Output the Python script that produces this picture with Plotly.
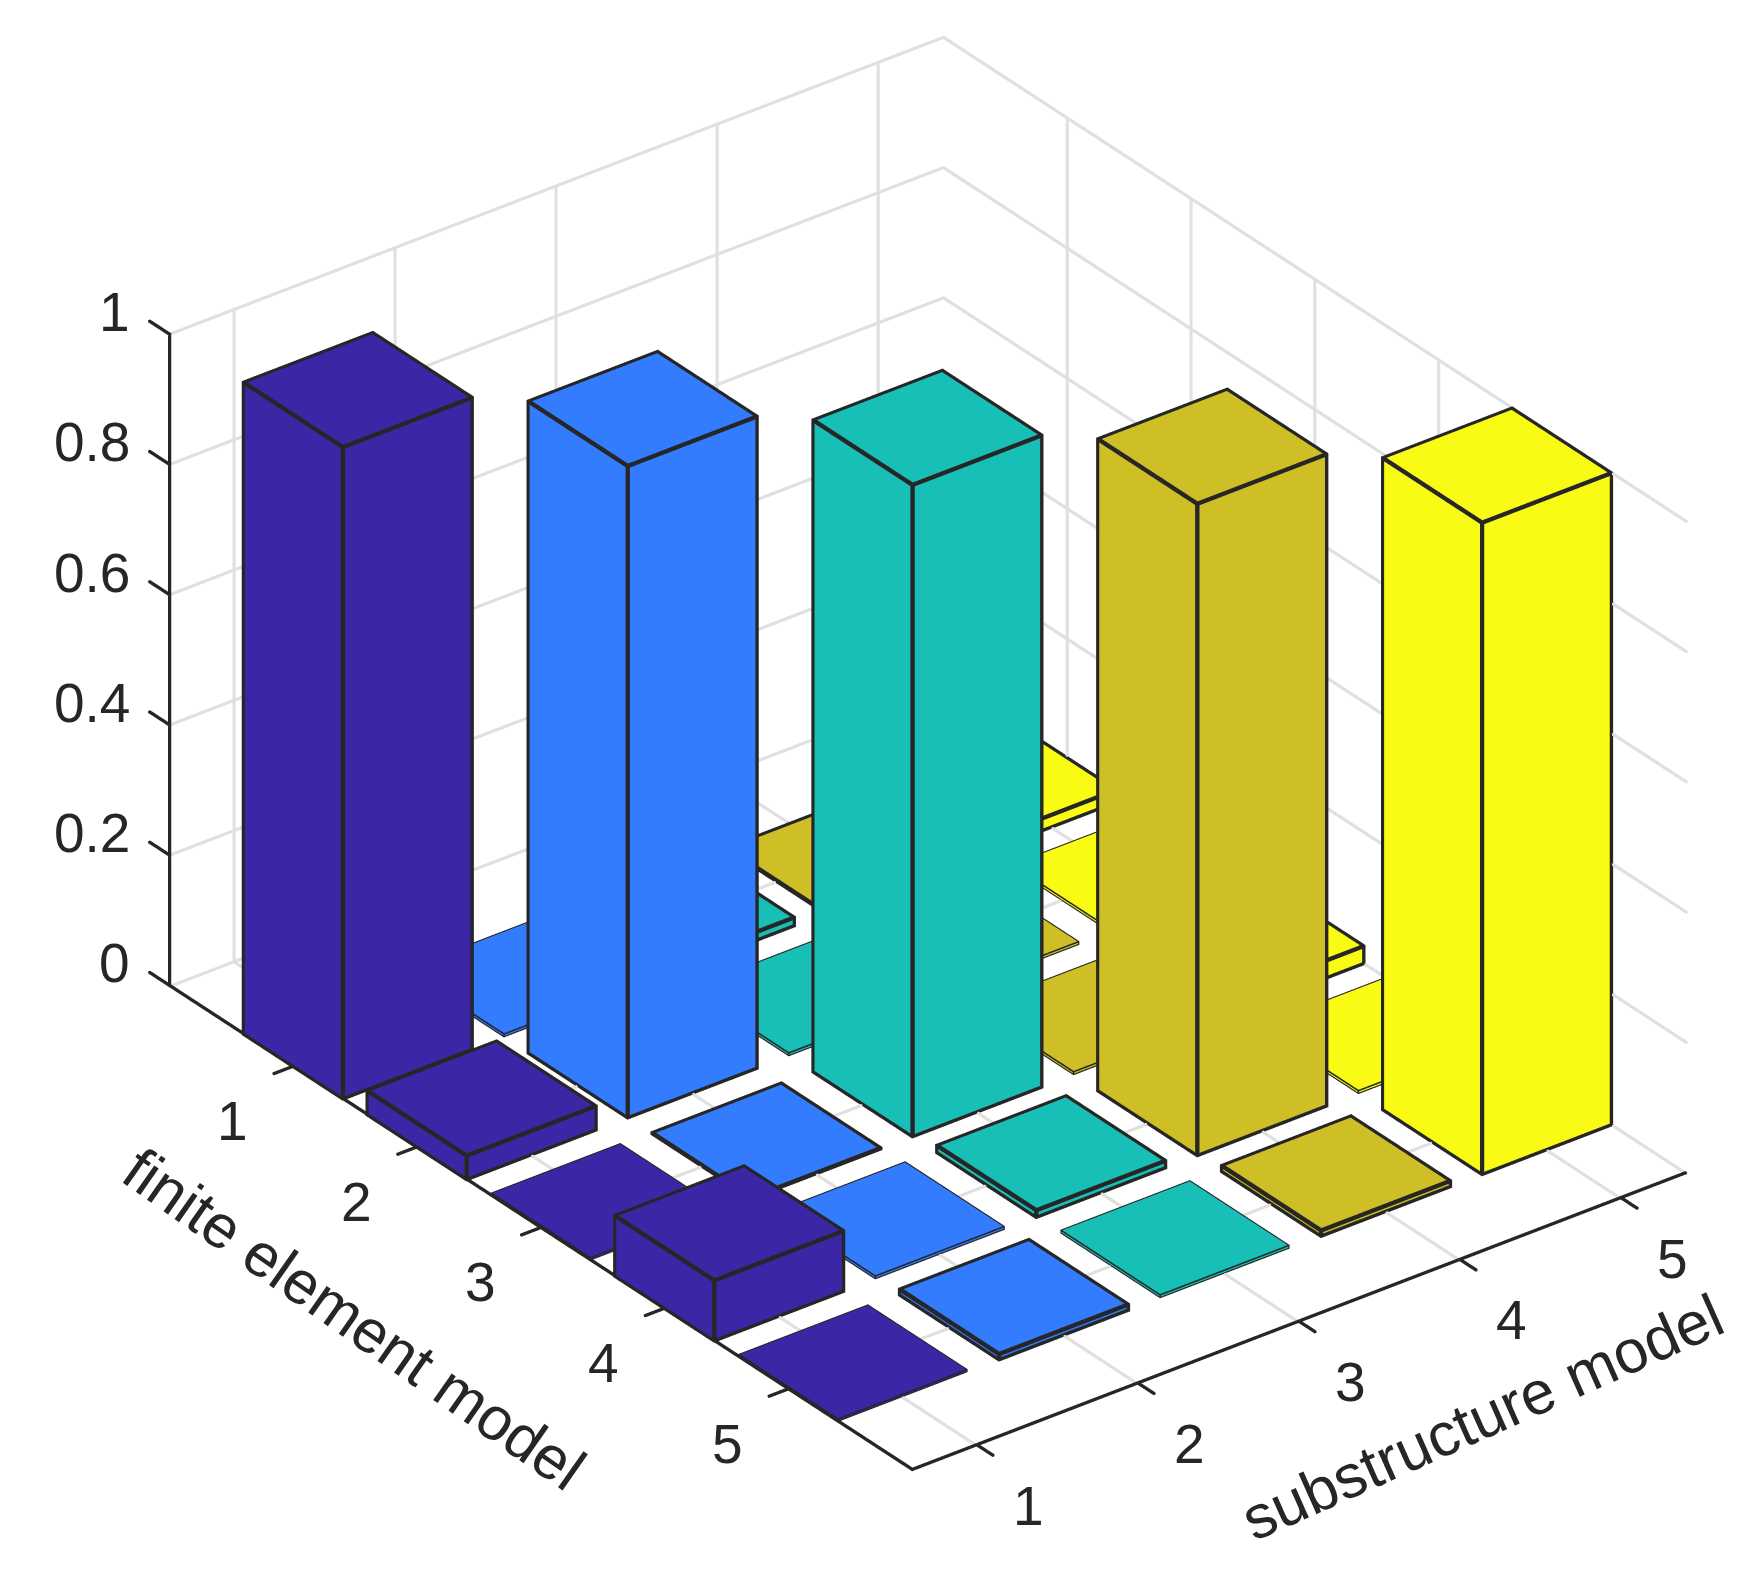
import numpy as np
import plotly.graph_objects as go

# data: one list of bar heights per substructure model (x), indexed by finite element model (y)
fe_models = [1, 2, 3, 4, 5]
sub_models = [1, 2, 3, 4, 5]
sub1 = [1.0, 0.036, 0.003, 0.092, 0.003]
sub2 = [0.004, 1.0, 0.0005, 0.004, 0.008]
sub3 = [0.012, 0.004, 1.0, 0.010, 0.004]
sub4 = [0.0005, 0.004, 0.004, 1.0, 0.008]
sub5 = [0.018, 0.004, 0.026, 0.004, 1.0]
columns = [sub1, sub2, sub3, sub4, sub5]
colors = ["#3b27a6", "#327cfd", "#18bfb6", "#cfbf26", "#f9fb14"]
z_ticks = [0, 0.2, 0.4, 0.6, 0.8, 1]
z_ticktext = ["0", "0.2", "0.4", "0.6", "0.8", "1"]
xlabel = "substructure model"
ylabel = "finite element model"

# style
HW = 0.4
INK = "#262626"
GRID = "#e0e0e0"
THICK = 3.4
THIN = 1.2
AXW = 2.6
GRW = 2.5
XR = (0.6, 5.4)
YR = (0.0, 6.0)
PAD = 1.1
ZOOM = 1.41
ASPECT = dict(x=0.868 * PAD * ZOOM, y=1.087 * PAD * ZOOM, z=0.670 * PAD * ZOOM)
t, el = np.radians(37.5), np.radians(30)
DIST = 3.0
PX = 797.0
SHIFT_R, SHIFT_U = 38.0, 50.5

# data units per screen pixel along each axis
UX, UY, UZ = (XR[1] - XR[0]) / 0.868 / 1124, (YR[1] - YR[0]) / 1.087 / 1124, 1 / 0.670 / 1124
SQ = 1.1

d = np.array([-np.sin(t) * np.cos(el), -np.cos(t) * np.cos(el), np.sin(el)])
r = np.array([np.cos(t), -np.sin(t), 0.0])
u = np.array([np.sin(el) * np.sin(t), np.sin(el) * np.cos(t), np.cos(el)])
center = -(SHIFT_R * r + SHIFT_U * u) / PX
eye = center + DIST * d

I = [0, 0, 4, 4, 0, 0, 1, 1, 2, 2, 3, 3]
J = [1, 2, 5, 6, 1, 5, 2, 6, 3, 7, 0, 4]
K = [2, 3, 6, 7, 5, 4, 6, 5, 7, 6, 4, 7]


class Boxes:
    """Collects axis-aligned boxes for one Mesh3d trace."""
    def __init__(self):
        self.x, self.y, self.z, self.i, self.j, self.k = [], [], [], [], [], []

    def add(self, x0, x1, y0, y1, z0, z1):
        n = len(self.x)
        for zz in (z0, z1):
            for xx, yy in ((x0, y0), (x1, y0), (x1, y1), (x0, y1)):
                self.x.append(xx); self.y.append(yy); self.z.append(zz)
        self.i += [n + a for a in I]
        self.j += [n + a for a in J]
        self.k += [n + a for a in K]

    def stroke(self, p, q, w, flat_floor=False):
        hx, hy, hz = w / SQ / 2 * UX, w / SQ / 2 * UY, w / SQ / 2 * UZ
        z0, z1 = min(p[2], q[2]) - hz, max(p[2], q[2]) + hz
        if flat_floor:
            z0, z1 = -2 * hz, 0.0
        self.add(min(p[0], q[0]) - hx, max(p[0], q[0]) + hx,
                 min(p[1], q[1]) - hy, max(p[1], q[1]) + hy, z0, z1)

    def trace(self, color):
        return go.Mesh3d(x=self.x, y=self.y, z=self.z, i=self.i, j=self.j, k=self.k, color=color,
                         flatshading=True,
                         lighting=dict(ambient=1, diffuse=0, specular=0, roughness=1, fresnel=0),
                         hoverinfo="skip", showscale=False)


fig = go.Figure()

# grid on the back walls and floor; the right wall lines sit just behind the bars touching it
WALL_X = XR[1] + 1.05 * GRW / SQ / 2 * UX
grid = Boxes()
for v in sub_models:
    grid.stroke((v, YR[0], 0), (v, YR[0], 1), GRW)
    grid.stroke((v, YR[0], 0), (v, YR[1], 0), GRW, flat_floor=True)
for v in fe_models:
    grid.stroke((WALL_X, v, 0), (WALL_X, v, 1), GRW)
    grid.stroke((XR[0], v, 0), (XR[1], v, 0), GRW, flat_floor=True)
for v in z_ticks:
    grid.stroke((XR[0], YR[0], v), (XR[1], YR[0], v), GRW, flat_floor=(v == 0))
    grid.stroke((WALL_X, YR[0], v), (WALL_X, YR[1], v), GRW, flat_floor=(v == 0))
fig.add_trace(grid.trace(GRID))

# bars and their edges
ink = Boxes()
for xv, col, c in zip(sub_models, columns, colors):
    bars = Boxes()
    for yv, h in zip(fe_models, col):
        x0, x1, y0, y1 = xv - HW, xv + HW, yv - HW, yv + HW
        bars.add(x0, x1, y0, y1, 0.0, h)
        w = THIN if 0.002 < h < 0.0065 else THICK
        for zz in (0.0, h):
            ink.stroke((x0, y0, zz), (x1, y0, zz), w)
            ink.stroke((x0, y1, zz), (x1, y1, zz), w)
            ink.stroke((x0, y0, zz), (x0, y1, zz), w)
            ink.stroke((x1, y0, zz), (x1, y1, zz), w)
        for xx, yy in ((x0, y0), (x1, y0), (x1, y1), (x0, y1)):
            ink.stroke((xx, yy, 0.0), (xx, yy, h), w)
    fig.add_trace(bars.trace(c))

# axis lines and ticks
ink.stroke((XR[0], YR[0], 0), (XR[0], YR[0], 1), AXW)
ink.stroke((XR[0], YR[0], 0), (XR[0], YR[1], 0), AXW)
ink.stroke((XR[0], YR[1], 0), (XR[1], YR[1], 0), AXW)
for v in z_ticks:
    ink.stroke((XR[0], YR[0], v), (XR[0], YR[0] - 0.16, v), AXW)
for v in fe_models:
    ink.stroke((XR[0], v, 0), (XR[0] - 0.12, v, 0), AXW)
for v in sub_models:
    ink.stroke((v, YR[1], 0), (v, YR[1] + 0.13, 0), AXW)
fig.add_trace(ink.trace(INK))

font = dict(family="Liberation Sans, Arial, sans-serif", size=55, color=INK)
tfont = dict(family="Liberation Sans, Arial, sans-serif", size=61, color=INK)
anns = []
for v, s in zip(z_ticks, z_ticktext):
    anns.append(dict(x=XR[0], y=YR[0], z=v, text=s, showarrow=False, font=font,
                     xanchor="right", yanchor="middle", xshift=-38, yshift=22))
for v in fe_models:
    anns.append(dict(x=XR[0], y=v, z=0, text=str(v), showarrow=False, font=font,
                     xanchor="center", yanchor="middle", xshift=-61, yshift=-55))
for v in sub_models:
    anns.append(dict(x=v, y=YR[1], z=0, text=str(v), showarrow=False, font=font,
                     xanchor="center", yanchor="middle", xshift=52, yshift=-61))
anns.append(dict(x=XR[0], y=3, z=0, text=ylabel, showarrow=False, font=tfont, textangle=35,
                 xanchor="center", yanchor="middle", xshift=-187, yshift=-92))
anns.append(dict(x=3, y=YR[1], z=0, text=xlabel, showarrow=False, font=tfont, textangle=-24,
                 xanchor="center", yanchor="middle", xshift=184, yshift=-96))


def axis(lo, hi):
    mid, half = (lo + hi) / 2, (hi - lo) / 2 * PAD
    return dict(range=[mid - half, mid + half], showticklabels=False, ticks="", showline=False,
                zeroline=False, showbackground=False, showgrid=False,
                showspikes=False, title=dict(text=""))


yaxis = axis(*YR)
yaxis["range"] = yaxis["range"][::-1]

fig.update_layout(
    width=1763, height=1592, margin=dict(l=0, r=0, t=0, b=0), showlegend=False,
    paper_bgcolor="white",
    scene=dict(
        xaxis=axis(*XR),
        yaxis=yaxis,
        zaxis=axis(0, 1),
        aspectmode="manual", aspectratio=ASPECT,
        camera=dict(projection=dict(type="orthographic"),
                    up=dict(x=0, y=0, z=1),
                    center=dict(x=center[0], y=center[1], z=center[2]),
                    eye=dict(x=eye[0], y=eye[1], z=eye[2])),
        annotations=anns,
        domain=dict(x=[0, 1], y=[0, 1]),
    ),
)
fig.write_html("out.html")
